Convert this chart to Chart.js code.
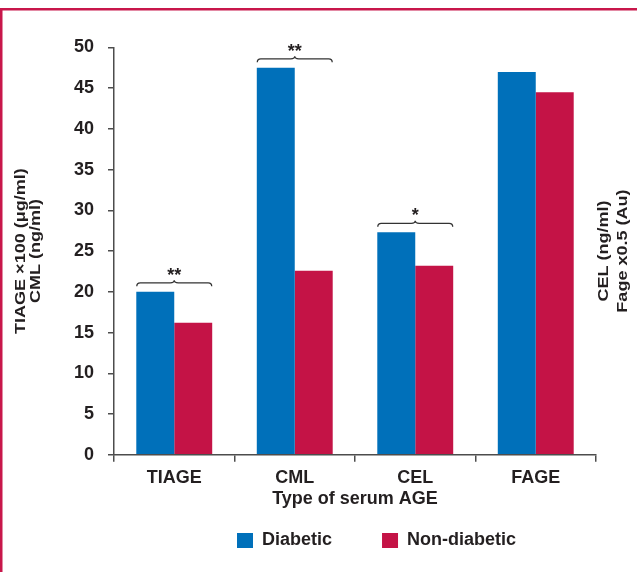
<!DOCTYPE html>
<html><head><meta charset="utf-8">
<script src="https://cdn.jsdelivr.net/npm/chart.js@4.4.1/dist/chart.umd.min.js"></script>
<style>html,body{margin:0;padding:0;background:#fff}#wrap{width:637px;height:572px;position:relative}</style>
</head><body><div id="wrap"><canvas id="c" width="637" height="572"></canvas></div>
<script>
const categories = ['TIAGE', 'CML', 'CEL', 'FAGE'];
const diabetic = [20.0, 47.5, 27.3, 47.0];
const nonDiabetic = [16.2, 22.6, 23.2, 44.5];
const significance = ['**', '**', '*', ''];
const seriesNames = ['Diabetic', 'Non-diabetic'];
const yTickMin = 0, yTickMax = 50, yTickStep = 5;
const leftTitle = ['TIAGE \u00d7100 (\u03bcg/ml)', 'CML (ng/ml)'];
const rightTitle = ['CEL (ng/ml)', 'Fage x0.5 (Au)'];
const xTitle = 'Type of serum AGE';

const BLUE = '#0070ba', RED = '#c41346', INK = '#231f20', AXIS = '#4d4d4d', FRAME = '#c8174b';
const FONT = 'Liberation Sans, Arial, Helvetica, sans-serif';

function sideTitle(ctx, lines, x0, step, cy) {
  ctx.save();
  ctx.fillStyle = INK;
  ctx.font = 'bold 14px ' + FONT;
  ctx.textAlign = 'center';
  ctx.textBaseline = 'middle';
  lines.forEach((t, k) => {
    ctx.save();
    ctx.translate(x0 + k * step, cy);
    ctx.rotate(-Math.PI / 2);
    ctx.scale(1.286, 1);
    ctx.fillText(t, 0, 0);
    ctx.restore();
  });
  ctx.restore();
}

const decor = {
  id: 'decor',
  beforeDraw(chart) {
    const ctx = chart.ctx;
    ctx.save();
    ctx.fillStyle = FRAME;
    ctx.fillRect(0, 8, chart.width, 2.5);
    ctx.fillRect(0, 8, 2.5, chart.height - 8);
    ctx.restore();
  },
  afterLayout(chart) {
    const lg = chart.legend;
    if (lg) { const dx = 227 - lg.left; lg.left += dx; lg.right += dx; }
  },
  afterDatasetsDraw(chart) {
    const ctx = chart.ctx;
    const m0 = chart.getDatasetMeta(0), m1 = chart.getDatasetMeta(1);
    ctx.save();
    significance.forEach((sig, i) => {
      if (!sig) return;
      const b0 = m0.data[i], b1 = m1.data[i];
      const xL = b0.x - b0.width / 2, xR = b1.x + b1.width / 2, xm = (xL + xR) / 2;
      const y = Math.min(b0.y, b1.y) - 9;
      ctx.strokeStyle = '#333';
      ctx.lineWidth = 1.3;
      ctx.beginPath();
      ctx.moveTo(xL + 0.5, y + 3.5);
      ctx.quadraticCurveTo(xL + 0.5, y, xL + 4, y);
      ctx.lineTo(xm - 4, y);
      ctx.quadraticCurveTo(xm, y, xm, y - 2.5);
      ctx.quadraticCurveTo(xm, y, xm + 4, y);
      ctx.lineTo(xR - 4, y);
      ctx.quadraticCurveTo(xR - 0.5, y, xR - 0.5, y + 3.5);
      ctx.stroke();
      ctx.fillStyle = INK;
      ctx.font = 'bold 18px ' + FONT;
      ctx.textAlign = 'center';
      ctx.textBaseline = 'alphabetic';
      ctx.fillText(sig, xm, y - 2);
    });
    ctx.restore();
    const ca = chart.chartArea;
    const cy = (ca.top + ca.bottom) / 2;
    sideTitle(ctx, leftTitle, 21, 15, cy);
    sideTitle(ctx, rightTitle, ca.right + 8.5, 19, cy);
  }
};

new Chart(document.getElementById('c'), {
  type: 'bar',
  data: {
    labels: categories,
    datasets: [
      { label: seriesNames[0], data: diabetic, backgroundColor: BLUE, borderWidth: 0 },
      { label: seriesNames[1], data: nonDiabetic, backgroundColor: RED, borderWidth: 0 }
    ]
  },
  options: {
    responsive: false,
    animation: false,
    devicePixelRatio: 1,
    layout: { padding: { left: 0, right: 41, top: 47.5, bottom: 12.5 } },
    datasets: { bar: { categoryPercentage: 0.63, barPercentage: 1.0 } },
    plugins: {
      tooltip: { enabled: false },
      legend: {
        position: 'bottom',
        align: 'start',
        labels: {
          boxWidth: 16, boxHeight: 15, padding: 10, color: INK,
          font: { family: FONT, size: 18, weight: 'bold' },
          generateLabels(chart) {
            return chart.data.datasets.map((ds, i) => ({
              text: i === 0 ? ds.label + '        ' : ds.label,
              fillStyle: ds.backgroundColor, strokeStyle: ds.backgroundColor,
              lineWidth: 0, hidden: false, datasetIndex: i, fontColor: INK
            }));
          }
        }
      }
    },
    scales: {
      x: {
        offset: true,
        grid: { offset: true, drawOnChartArea: false, drawTicks: true, tickLength: 7, color: AXIS, lineWidth: 1.5 },
        border: { display: true, color: AXIS, width: 1.5 },
        ticks: { color: INK, padding: 6, font: { family: FONT, size: 18, weight: 'bold' } },
        title: { display: true, text: xTitle, color: INK, padding: { top: 0, bottom: 11.7 }, font: { family: FONT, size: 18, weight: 'bold' } },
        afterFit(s) { s.height = 66.8; }
      },
      y: {
        min: yTickMin, max: yTickMax,
        grid: { drawOnChartArea: false, drawTicks: true, tickLength: 6, color: AXIS, lineWidth: 1.5 },
        border: { display: true, color: AXIS, width: 1.5 },
        ticks: { stepSize: yTickStep, color: INK, padding: 14, font: { family: FONT, size: 18, weight: 'bold' } },
        title: { display: false },
        afterFit(s) { s.width = 114; }
      }
    }
  },
  plugins: [decor]
});
</script>
</body></html>
